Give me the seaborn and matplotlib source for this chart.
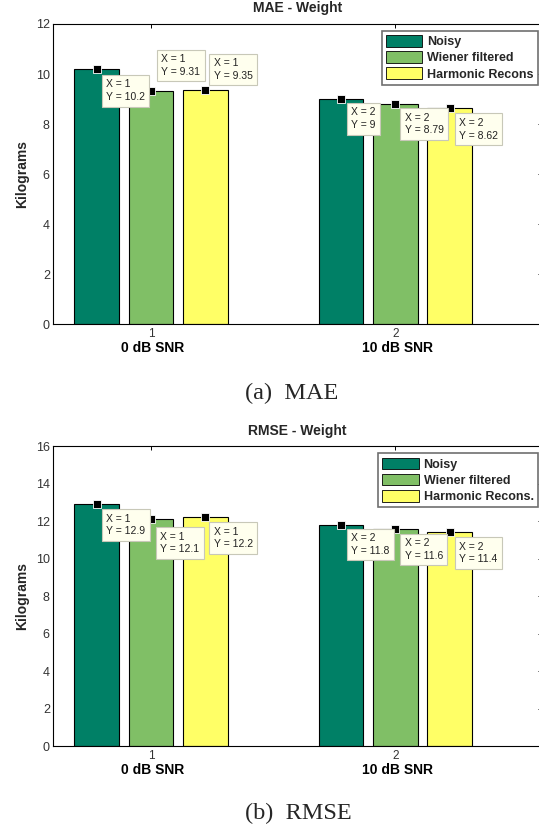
import numpy as np
import pandas as pd
import matplotlib
matplotlib.use("Agg")
import matplotlib.pyplot as plt
import seaborn as sns

# ---------------- data ----------------
groups = ["0 dB SNR", "10 dB SNR"]
group_ticks = ["1", "2"]
methods_mae = ["Noisy", "Wiener filtered", "Harmonic Recons"]
methods_rmse = ["Noisy", "Wiener filtered", "Harmonic Recons."]

mae_noisy = [10.2, 9.0]
mae_wiener = [9.31, 8.79]
mae_harmonic = [9.35, 8.62]

rmse_noisy = [12.9, 11.8]
rmse_wiener = [12.1, 11.6]
rmse_harmonic = [12.2, 11.4]

mae_yticks = [0, 2, 4, 6, 8, 10, 12]
rmse_yticks = [0, 2, 4, 6, 8, 10, 12, 14, 16]

colors = ["#008066", "#80BF66", "#FFFF66"]

# ---------------- style ----------------
sns.set_style("white")
plt.rcParams["font.family"] = ["Liberation Sans", "DejaVu Sans"]

W, H = 539, 830
fig = plt.figure(figsize=(W / 100, H / 100), dpi=100)

AX_L, AX_R = 53.3, 542.0


def ax_rect(top_px, bottom_px):
    return [AX_L / W, 1 - bottom_px / H, (AX_R - AX_L) / W, (bottom_px - top_px) / H]


# tooltip placement (dx, dy, 'below'/'above') in pixels, per (hue index, group index)
mae_tips = {(0, 0): (5, 6, "below"), (0, 1): (6, 4, "below"),
            (1, 0): (6, 10, "above"), (1, 1): (5, 4, "below"),
            (2, 0): (4, 5, "above"), (2, 1): (5, 5, "below")}
rmse_tips = {(0, 0): (5, 5, "below"), (0, 1): (6, 4, "below"),
             (1, 0): (5, 8, "below"), (1, 1): (5, 5, "below"),
             (2, 0): (4, 5, "below"), (2, 1): (5, 5, "below")}


def panel(ax, series, methods, title, yticks, tips, title_y, legend_top, caption, cap_x, cap_y):
    rows = []
    for m, vals in zip(methods, series):
        for g, v in zip(groups, vals):
            rows.append({"group": g, "method": m, "value": v})
    df = pd.DataFrame(rows)
    sns.barplot(data=df, x="group", y="value", hue="method", order=groups,
                hue_order=methods, palette=colors, saturation=1, width=0.667,
                gap=0.18, edgecolor="black", linewidth=0.8, errorbar=None, ax=ax)

    ax.set_xlim(-0.4, 1.6)
    ax.set_ylim(yticks[0], yticks[-1])
    ax.set_yticks(yticks)
    ax.set_xticks([0, 1], group_ticks)
    ax.set_xlabel("")
    ax.set_ylabel("Kilograms", fontweight="bold", fontsize=10)
    ax.yaxis.set_label_coords(-0.05, 0.5)
    for s in ax.spines.values():
        s.set_visible(True)
        s.set_color("black")
        s.set_linewidth(0.8)
    ax.tick_params(axis="both", direction="in", length=3, width=0.7, color="black",
                   top=True, right=True, labelcolor="#333333")
    ax.tick_params(axis="y", labelsize=9, pad=2.5)
    ax.tick_params(axis="x", labelsize=8.5, pad=3)

    for j, g in enumerate(groups):
        ax.annotate(g, xy=(j, 0), xycoords=("data", "axes fraction"),
                    xytext=(2, -24), textcoords="offset pixels", ha="center",
                    va="center", fontweight="bold", fontsize=10, color="black")

    # data tips
    pad = 0.42
    fs = 7.5
    pad_px = pad * fs * 100 / 72
    for i, cont in enumerate(ax.containers):
        for j, bar in enumerate(cont):
            x = bar.get_x() + bar.get_width() / 2
            h = bar.get_height()
            ax.plot([x], [h], marker="s", ms=5.2, mfc="black", mec="white",
                    mew=0.6, zorder=6, clip_on=False, ls="none")
            dx, dy, where = tips[(i, j)]
            if where == "below":
                off = (dx + pad_px, -(dy + pad_px))
                va = "top"
            else:
                off = (dx + pad_px, dy + pad_px)
                va = "bottom"
            ax.annotate(f"X = {j + 1}\nY = {h:.3g}", xy=(x, h), xytext=off,
                        textcoords="offset pixels", ha="left", va=va,
                        fontsize=fs, color="#222222", linespacing=1.35,
                        zorder=7,
                        bbox=dict(boxstyle=f"square,pad={pad}", fc="#FFFFEE",
                                  ec="#C8C8B8", lw=0.8))

    handles, labels = ax.get_legend_handles_labels()
    for hd in handles:
        hd.set_edgecolor("black")
        hd.set_linewidth(0.6)
    leg = ax.legend(handles, labels, loc="upper right",
                    bbox_to_anchor=(538 / W, 1 - legend_top / H),
                    bbox_transform=fig.transFigure, borderaxespad=0,
                    frameon=True, fancybox=False, edgecolor="#707070",
                    framealpha=1, prop=dict(weight="bold", size=9),
                    handlelength=2.9, handleheight=1.05, handletextpad=0.4,
                    borderpad=0.35, labelspacing=0.25)
    leg.get_frame().set_linewidth(1.2)
    leg.set_zorder(10)

    fig.text((AX_L + AX_R) / 2 / W, 1 - title_y / H, title, ha="center",
             va="center", fontweight="bold", fontsize=10)
    fig.text(cap_x / W, 1 - cap_y / H, caption, ha="center", va="center",
             fontsize=17.5, family=["Liberation Serif", "DejaVu Serif"])


ax1 = fig.add_axes(ax_rect(24, 324))
panel(ax1, [mae_noisy, mae_wiener, mae_harmonic], methods_mae, "MAE - Weight",
      mae_yticks, mae_tips, 8, 30.7, "(a)  MAE", 292, 393)

ax2 = fig.add_axes(ax_rect(446, 746))
panel(ax2, [rmse_noisy, rmse_wiener, rmse_harmonic], methods_rmse, "RMSE - Weight",
      rmse_yticks, rmse_tips, 431, 453.3, "(b)  RMSE", 298, 813)

fig.savefig("out.png", dpi=100, facecolor="white")
